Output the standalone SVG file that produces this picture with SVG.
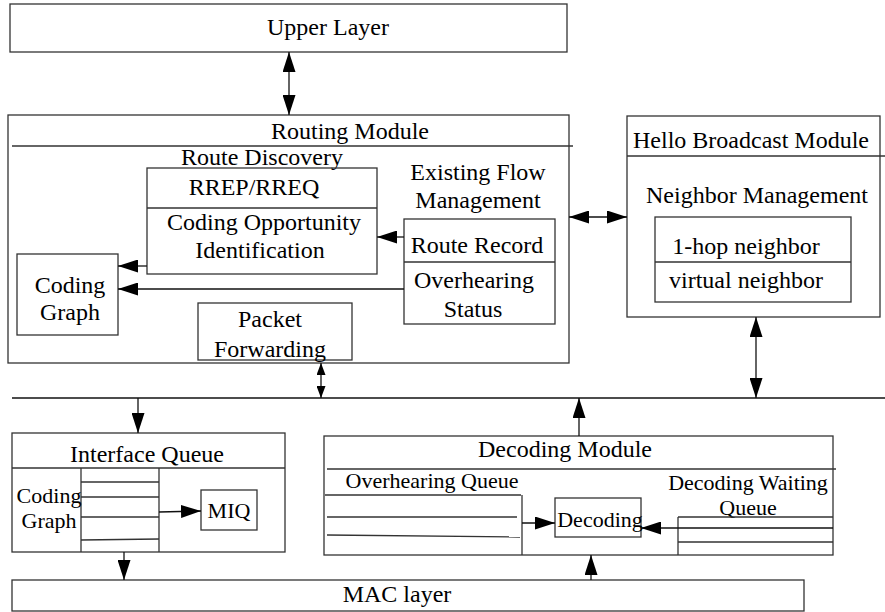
<svg xmlns="http://www.w3.org/2000/svg" width="885" height="612" viewBox="0 0 885 612">
<defs>
<marker id="arr" markerUnits="userSpaceOnUse" markerWidth="20" markerHeight="13" refX="20" refY="6.5" orient="auto-start-reverse"><path d="M0,0 L20,6.5 L0,13 z" fill="#000"/></marker>
<marker id="arrS" markerUnits="userSpaceOnUse" markerWidth="12" markerHeight="9" refX="12" refY="4.5" orient="auto-start-reverse"><path d="M0,0 L12,4.5 L0,9 z" fill="#000"/></marker>
</defs>
<style>
.b{fill:none;stroke:#333;stroke-width:1.3}
.ln{fill:none;stroke:#333;stroke-width:1.3}
.c{stroke:#111;stroke-width:1.3;fill:none}
text{font-family:"Liberation Serif","Times New Roman",serif;font-size:24px;fill:#000;text-anchor:middle}
.s{font-size:22px}
</style>
<rect width="885" height="612" fill="#fff"/>
<g id="upper-layer"><rect class="b" x="10" y="4" width="557" height="48"/><text x="328" y="35">Upper Layer</text></g>
<g id="routing-module">
<rect class="b" x="8" y="115" width="561" height="248"/>
<line class="ln" x1="12" y1="146" x2="573" y2="146"/>
<text x="350" y="139">Routing Module</text>
<text x="262" y="165">Route Discovery</text>
</g>
<g id="route-discovery">
<rect class="b" x="147" y="168" width="230" height="106"/>
<line class="ln" x1="147" y1="208" x2="377" y2="208"/>
<text x="254" y="195">RREP/RREQ</text>
<text x="264" y="230">Coding Opportunity</text>
<text x="260" y="258">Identification</text>
</g>
<g id="coding-graph"><rect class="b" x="17" y="254" width="101" height="81"/><text x="70" y="293">Coding</text><text x="70" y="320">Graph</text></g>
<g id="existing-flow">
<text x="478" y="180">Existing Flow</text>
<text x="478" y="208">Management</text>
<rect class="b" x="404" y="219" width="151" height="105"/>
<line class="ln" x1="404" y1="262" x2="555" y2="262"/>
<text x="477" y="253">Route Record</text>
<text x="474" y="288">Overhearing</text>
<text x="473" y="317">Status</text>
</g>
<g id="packet-forwarding"><rect class="b" x="198" y="303" width="154" height="57"/><text x="270" y="327">Packet</text><text x="270" y="357">Forwarding</text></g>
<g id="hello-broadcast">
<rect class="b" x="627" y="116" width="253" height="201"/>
<line class="ln" x1="627" y1="156" x2="885" y2="156"/>
<text x="751" y="148">Hello Broadcast Module</text>
<text x="757" y="203">Neighbor Management</text>
<rect class="b" x="655" y="217" width="196" height="85"/>
<line class="ln" x1="655" y1="262" x2="851" y2="262"/>
<text x="746" y="254">1-hop neighbor</text>
<text x="746" y="288">virtual neighbor</text>
</g>
<g id="interface-queue">
<rect class="b" x="12" y="433" width="273" height="119"/>
<line class="ln" x1="12" y1="468" x2="285" y2="468"/>
<text x="147" y="462">Interface Queue</text>
<line class="ln" x1="81" y1="468" x2="81" y2="552"/>
<line class="ln" x1="159" y1="468" x2="159" y2="552"/>
<line class="ln" x1="81" y1="482" x2="159" y2="482"/>
<line class="ln" x1="81" y1="497" x2="159" y2="497"/>
<line class="ln" x1="81" y1="517" x2="159" y2="517"/>
<line class="ln" x1="81" y1="540" x2="159" y2="539"/>
<text class="s" x="49" y="503">Coding</text>
<text class="s" x="49" y="528">Graph</text>
</g>
<g id="miq"><rect class="b" x="201" y="490" width="56" height="40"/><text class="s" x="229" y="518">MIQ</text></g>
<g id="decoding-module">
<rect class="b" x="324" y="436" width="509" height="119"/>
<line class="ln" x1="327" y1="469" x2="836" y2="469"/>
<text x="565" y="457">Decoding Module</text>
<text class="s" x="432" y="488">Overhearing Queue</text>
<line class="ln" x1="325" y1="495" x2="521" y2="495"/>
<line class="ln" x1="522" y1="495" x2="522" y2="555"/>
<line class="ln" x1="327" y1="517" x2="517" y2="517"/>
<line class="ln" x1="327" y1="535" x2="520" y2="537"/>
<text class="s" x="748" y="490">Decoding Waiting</text>
<text class="s" x="748" y="515">Queue</text>
<line class="ln" x1="678" y1="517" x2="833" y2="517"/>
<line class="ln" x1="678" y1="517" x2="678" y2="555"/>
<line class="ln" x1="678" y1="542" x2="833" y2="542"/>
</g>
<g id="decoding"><rect class="b" x="555" y="498" width="86" height="39"/><text class="s" x="600" y="527">Decoding</text></g>
<g id="mac-layer"><rect class="b" x="12" y="580" width="792" height="31"/><text x="397" y="602">MAC layer</text></g>
<g id="connectors">
<line class="c" x1="12" y1="398" x2="885" y2="398"/>
<line class="c" x1="289" y1="52" x2="289" y2="115" marker-start="url(#arr)" marker-end="url(#arr)"/>
<line class="c" x1="147" y1="266" x2="118" y2="266" marker-end="url(#arr)"/>
<line class="c" x1="404" y1="289" x2="118" y2="289" marker-end="url(#arr)"/>
<line class="c" x1="404" y1="237" x2="377" y2="237" marker-end="url(#arr)"/>
<line class="c" x1="569" y1="217" x2="627" y2="217" marker-start="url(#arr)" marker-end="url(#arr)"/>
<line class="c" x1="756" y1="317" x2="756" y2="398" marker-start="url(#arr)" marker-end="url(#arr)"/>
<line class="c" x1="321" y1="363" x2="321" y2="398" marker-start="url(#arrS)" marker-end="url(#arrS)"/>
<line class="c" x1="138" y1="398" x2="138" y2="433" marker-end="url(#arr)"/>
<line class="c" x1="124" y1="552" x2="124" y2="580" marker-end="url(#arr)"/>
<line class="c" x1="591" y1="580" x2="591" y2="555" marker-end="url(#arr)"/>
<line class="c" x1="579" y1="436" x2="579" y2="398" marker-end="url(#arr)"/>
<line class="c" x1="159" y1="512" x2="201" y2="511" marker-end="url(#arr)"/>
<line class="c" x1="522" y1="523" x2="555" y2="523" marker-end="url(#arr)"/>
<line class="c" x1="833" y1="528" x2="641" y2="528" marker-end="url(#arr)"/>
</g>
</svg>
